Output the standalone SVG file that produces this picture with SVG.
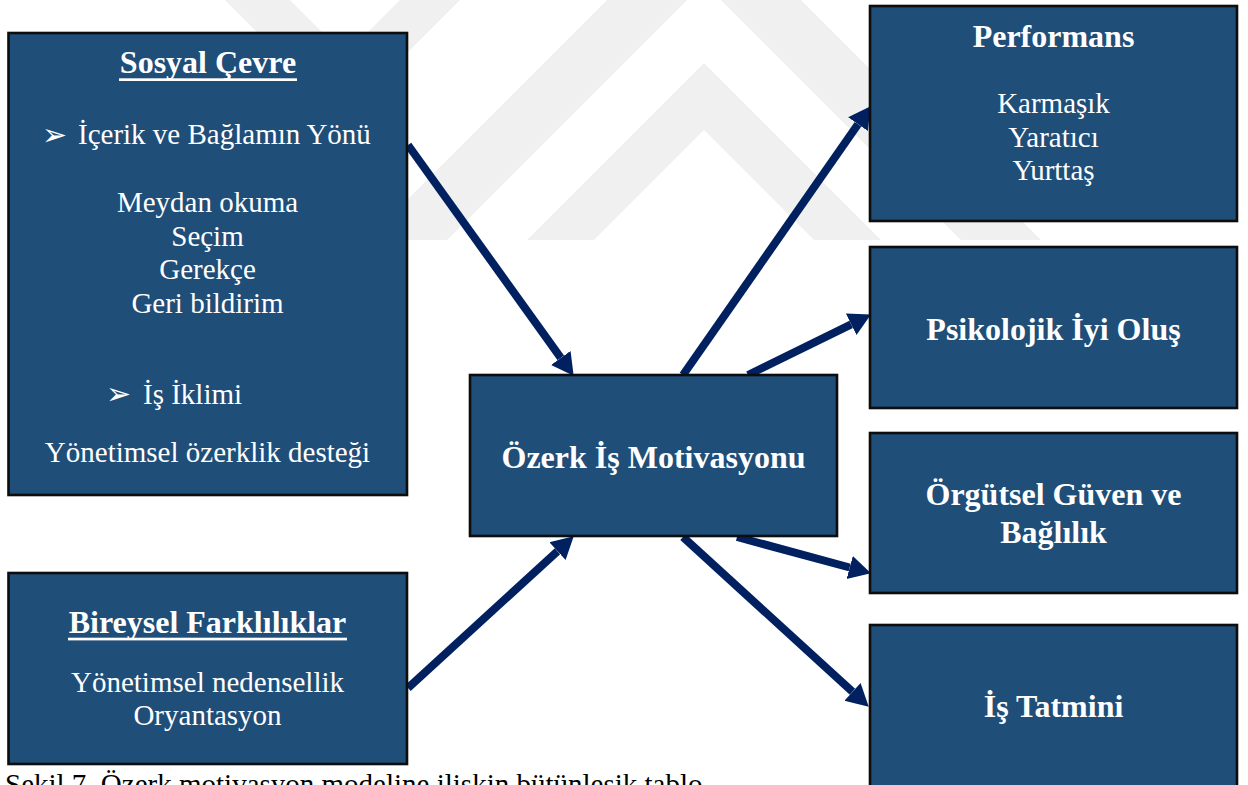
<svg xmlns="http://www.w3.org/2000/svg" width="1248" height="785" viewBox="0 0 1248 785">
  <defs>
    <style>
      .box { fill: #1f4e79; stroke: #0d0d0d; stroke-width: 2.6; }
      .t { fill: #ffffff; font-family: "Liberation Serif", "Times New Roman", serif; font-size: 29px; }
      .b { font-weight: bold; font-size: 32px; }
      .mid { text-anchor: middle; }
      .bullet { fill: #ffffff; font-family: "DejaVu Sans", sans-serif; font-size: 30px; }
      .ul { fill: #ffffff; }
      .wm { fill: #f0f0f0; }
      .conn { fill: none; stroke: #002060; stroke-width: 8; stroke-linecap: butt; marker-end: url(#head); }
      .cap { fill: #000000; font-family: "Liberation Serif", "Times New Roman", serif; font-size: 29px; }
    </style>
    <marker id="head" markerUnits="userSpaceOnUse" markerWidth="24" markerHeight="26" refX="0" refY="13" orient="auto" viewBox="0 0 24 26">
      <path d="M0,1 L22,13 L0,25 Z" fill="#002060"/>
    </marker>
    <clipPath id="wmclip">
      <rect x="0" y="0" width="1248" height="240"/>
    </clipPath>
  </defs>

  <rect x="0" y="0" width="1248" height="785" fill="#ffffff"/>

  <!-- faint background emblem -->
  <g id="emblem" clip-path="url(#wmclip)">
    <polygon class="wm" points="225,0 290,0 330,40 265,40"/>
    <polygon class="wm" points="400,0 460,0 220,240 160,240"/>
    <polygon class="wm" points="607,0 687,0 447,240 367,240"/>
    <polygon class="wm" points="721,0 801,0 1041,240 961,240"/>
    <polygon class="wm" points="704,63 881,240 814,240 704,130 594,240 527,240"/>
  </g>

  <!-- connectors -->
  <g id="connectors">
    <path class="conn" d="M408,145 L560.8,357.9"/>
    <path class="conn" d="M408,688 L557.5,551.2"/>
    <path class="conn" d="M683,375 L858,124.2"/>
    <path class="conn" d="M748,375 L851.2,324.3"/>
    <path class="conn" d="M737,537 L849.7,567.5"/>
    <path class="conn" d="M683,537 L852.5,691.8"/>
  </g>

  <g id="sosyal-cevre">
    <rect class="box" x="8.5" y="33" width="398.5" height="462"/>
    <text class="t b mid" x="208" y="73">Sosyal Çevre</text>
    <rect class="ul" x="119" y="78.3" width="178" height="2.7"/>
    <text class="bullet" x="42" y="145">➢</text>
    <text class="t" x="78" y="144">İçerik ve Bağlamın Yönü</text>
    <text class="t mid" x="207.5" y="212">Meydan okuma</text>
    <text class="t mid" x="207.5" y="245.5">Seçim</text>
    <text class="t mid" x="207.5" y="279">Gerekçe</text>
    <text class="t mid" x="207.5" y="312.5">Geri bildirim</text>
    <text class="bullet" x="106" y="404">➢</text>
    <text class="t" x="143" y="404">İş İklimi</text>
    <text class="t mid" x="207.5" y="462">Yönetimsel özerklik desteği</text>
  </g>

  <g id="bireysel-farkliliklar">
    <rect class="box" x="8.5" y="573" width="398.5" height="191"/>
    <text class="t b mid" x="207.5" y="633">Bireysel Farklılıklar</text>
    <rect class="ul" x="68" y="637.7" width="279" height="2.7"/>
    <text class="t mid" x="207.5" y="692">Yönetimsel nedensellik</text>
    <text class="t mid" x="207.5" y="725">Oryantasyon</text>
  </g>

  <g id="ozerk-is-motivasyonu">
    <rect class="box" x="470" y="375" width="367" height="161"/>
    <text class="t b mid" x="653.5" y="468">Özerk İş Motivasyonu</text>
  </g>

  <g id="performans">
    <rect class="box" x="870" y="6" width="367" height="215"/>
    <text class="t b mid" x="1053.5" y="47">Performans</text>
    <text class="t mid" x="1053.5" y="113">Karmaşık</text>
    <text class="t mid" x="1053.5" y="147">Yaratıcı</text>
    <text class="t mid" x="1053.5" y="180">Yurttaş</text>
  </g>

  <g id="psikolojik-iyi-olus">
    <rect class="box" x="870" y="247" width="367" height="161"/>
    <text class="t b mid" x="1053.5" y="340">Psikolojik İyi Oluş</text>
  </g>

  <g id="orgutsel-guven">
    <rect class="box" x="870" y="433" width="367" height="160"/>
    <text class="t b mid" x="1053.5" y="505">Örgütsel Güven ve</text>
    <text class="t b mid" x="1053.5" y="543">Bağlılık</text>
  </g>

  <g id="is-tatmini">
    <rect class="box" x="870" y="625" width="367" height="175"/>
    <text class="t b mid" x="1053.5" y="717">İş Tatmini</text>
  </g>

  <text class="cap" x="5" y="794">Şekil 7. Özerk motivasyon modeline ilişkin bütünleşik tablo</text>
</svg>
